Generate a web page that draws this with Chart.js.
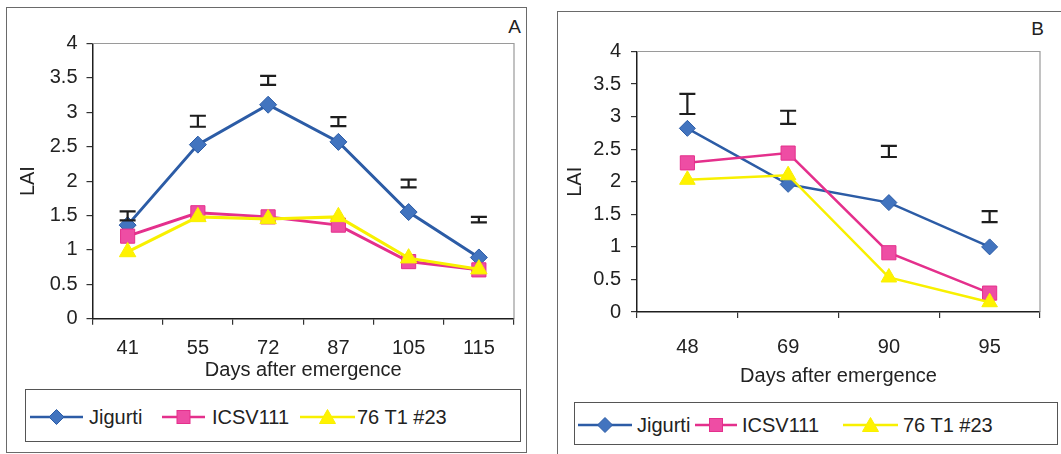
<!DOCTYPE html>
<html>
<head>
<meta charset="utf-8">
<script src="https://cdn.jsdelivr.net/npm/chart.js@4/dist/chart.umd.min.js"></script>
<style>
  html, body { margin: 0; padding: 0; background: #ffffff; }
  body { width: 1061px; height: 454px; position: relative; overflow: hidden; font-family: 'Liberation Sans', Arial, sans-serif; color: #222; }
  .frame { position: absolute; border: 1.5px solid #6a6a6a; box-sizing: border-box; }
  canvas { position: absolute; }
  .panel-label { position: absolute; font-size: 19px; line-height: 19px; text-align: right; color: #222; }
  .legend-box { position: absolute; border: 1.5px solid #555; box-sizing: border-box; }
  .leg-text { position: absolute; font-size: 20px; line-height: 20px; white-space: nowrap; color: #222; }
  svg.leg-sym { position: absolute; overflow: visible; }
</style>
</head>
<body>
<div class="frame" style="left:6px; top:7px; width:521px; height:446px;"></div>
<div class="frame" style="left:557px; top:11px; width:520px; height:450px;"></div>
<div class="panel-label" style="left:471px; top:17px; width:50px;">A</div>
<div class="panel-label" style="left:994px; top:19px; width:50px;">B</div>
<canvas id="chartA" width="518" height="380" style="left:7px; top:8px;"></canvas>
<canvas id="chartB" width="503" height="390" style="left:558px; top:11px;"></canvas>
<div class="legend-box" style="left:25px; top:389px; width:496px; height:53px;"></div>
<div class="legend-box" style="left:574px; top:402px; width:484px; height:43px;"></div>
<div id="legends"></div>
<script>
// ---------- DATA ----------
const seriesNames = ['Jigurti', 'ICSV111', '76 T1 #23'];

const categoriesA = ['41', '55', '72', '87', '105', '115'];
const jigurtiA = [1.36, 2.53, 3.11, 2.57, 1.55, 0.89];
const icsvA    = [1.20, 1.54, 1.48, 1.36, 0.83, 0.71];
const t76A     = [0.97, 1.48, 1.45, 1.48, 0.88, 0.72];
const lsdLowA  = [1.43, 2.79, 3.40, 2.80, 1.91, 1.40];
const lsdHighA = [1.56, 2.95, 3.53, 2.93, 2.02, 1.48];

const categoriesB = ['48', '69', '90', '95'];
const jigurtiB = [2.82, 1.96, 1.68, 1.00];
const icsvB    = [2.29, 2.44, 0.91, 0.29];
const t76B     = [2.03, 2.10, 0.53, 0.15];
const lsdLowB  = [3.04, 2.89, 2.38, 1.38];
const lsdHighB = [3.35, 3.09, 2.55, 1.55];

const yTickValues = [0, 0.5, 1, 1.5, 2, 2.5, 3, 3.5, 4];
const yTickLabels = ['0', '0.5', '1', '1.5', '2', '2.5', '3', '3.5', '4'];
const yAxisTitle = 'LAI';
const xAxisTitle = 'Days after emergence';

// ---------- STYLE ----------
const FONT = "'Liberation Sans', Arial, sans-serif";
const COLORS = {
  blueLine: '#2c5ca6', blueFill: '#4274bf',
  pinkLine: '#e4308c', pinkFill: '#ee4da4',
  yellowLine: '#f8f000', yellowFill: '#fff200'
};

Chart.defaults.font.family = FONT;
Chart.defaults.color = '#222';

const errorBarPlugin = {
  id: 'lsdBars',
  afterDatasetsDraw(chart, args, opts) {
    const {ctx, scales: {x, y}} = chart;
    ctx.save();
    ctx.strokeStyle = '#1e1e1e';
    ctx.lineWidth = opts.lineWidth || 2.2;
    const cap = opts.cap || 8;
    opts.low.forEach((lo, i) => {
      const hi = opts.high[i];
      const px = x.getPixelForValue(i);
      const y1 = y.getPixelForValue(lo), y2 = y.getPixelForValue(hi);
      ctx.beginPath();
      ctx.moveTo(px, y1); ctx.lineTo(px, y2);
      ctx.moveTo(px - cap, y1); ctx.lineTo(px + cap, y1);
      ctx.moveTo(px - cap, y2); ctx.lineTo(px + cap, y2);
      ctx.stroke();
    });
    ctx.restore();
  }
};

const plotBorderPlugin = {
  id: 'plotBorder',
  beforeDatasetsDraw(chart) {
    const {ctx, chartArea: a} = chart;
    ctx.save();
    ctx.strokeStyle = '#9a9a9a';
    ctx.lineWidth = 1.2;
    ctx.beginPath();
    ctx.moveTo(a.left, a.top); ctx.lineTo(a.right, a.top); ctx.lineTo(a.right, a.bottom);
    ctx.stroke();
    ctx.restore();
  }
};

function makeChart(id, cfg) {
  const datasets = [
    { label: seriesNames[0], data: cfg.jig, borderColor: COLORS.blueLine, backgroundColor: COLORS.blueFill,
      pointStyle: 'rectRot', pointRadius: cfg.diamondR, pointBorderColor: COLORS.blueLine, pointBorderWidth: 1,
      borderWidth: cfg.lw, order: 3 },
    { label: seriesNames[1], data: cfg.icsv, borderColor: COLORS.pinkLine, backgroundColor: COLORS.pinkFill,
      pointStyle: 'rect', pointRadius: cfg.squareR, pointBorderColor: COLORS.pinkLine, pointBorderWidth: 1,
      borderWidth: cfg.lw, order: 2 },
    { label: seriesNames[2], data: cfg.t76, borderColor: COLORS.yellowLine, backgroundColor: COLORS.yellowFill,
      pointStyle: 'triangle', pointRadius: cfg.triR, pointBorderColor: COLORS.yellowLine, pointBorderWidth: 1,
      borderWidth: cfg.lw, order: 1 }
  ];
  return new Chart(document.getElementById(id), {
    type: 'line',
    data: { labels: cfg.labels, datasets },
    plugins: [plotBorderPlugin, errorBarPlugin],
    options: {
      responsive: false,
      animation: false,
      devicePixelRatio: 1,
      layout: { padding: cfg.padding },
      elements: { line: { tension: 0 } },
      plugins: {
        legend: { display: false },
        tooltip: { enabled: false },
        lsdBars: { low: cfg.low, high: cfg.high, cap: 8, lineWidth: 2.2 }
      },
      scales: {
        x: {
          type: 'category',
          offset: true,
          grid: { display: true, offset: true, drawOnChartArea: false, drawTicks: true, tickLength: 6, color: '#333', lineWidth: 1.2 },
          border: { display: true, color: '#1e1e1e', width: 1.5 },
          ticks: { font: { size: 20 }, color: '#222', padding: cfg.xTickPad, maxRotation: 0, autoSkip: false },
          title: { display: true, text: xAxisTitle, font: { size: 20 }, color: '#222', padding: { top: 0, bottom: cfg.xTitlePad } },
          afterFit(s) { s.height = cfg.xHeight; }
        },
        y: {
          min: 0, max: 4,
          afterBuildTicks(s) { s.ticks = yTickValues.map(v => ({ value: v })); },
          grid: { display: true, drawOnChartArea: false, drawTicks: true, tickLength: 6, color: '#333', lineWidth: 1.2 },
          border: { display: true, color: '#1e1e1e', width: 1.5 },
          ticks: { font: { size: 20 }, color: '#222', padding: cfg.yTickPad,
                   callback: (v, i) => yTickLabels[yTickValues.indexOf(v)] },
          title: { display: true, text: yAxisTitle, font: { size: 20 }, color: '#222', padding: { top: cfg.yTitlePad, bottom: 0 } },
          afterFit(s) { s.width = cfg.yWidth; }
        }
      }
    }
  });
}

makeChart('chartA', {
  labels: categoriesA, jig: jigurtiA, icsv: icsvA, t76: t76A, low: lsdLowA, high: lsdHighA,
  padding: { left: 0, top: 35.5, right: 2, bottom: 0 },
  yWidth: 85.5, xHeight: 69.3, xTickPad: 12, yTickPad: 9, xTitlePad: 6, yTitlePad: 9,
  lw: 3, diamondR: 8.5, squareR: 10, triR: 9.5
});

makeChart('chartB', {
  labels: categoriesB, jig: jigurtiB, icsv: icsvB, t76: t76B, low: lsdLowB, high: lsdHighB,
  padding: { left: 0, top: 40.5, right: 21, bottom: 0 },
  yWidth: 79, xHeight: 89, xTickPad: 17, yTickPad: 10, xTitlePad: 12.5, yTitlePad: 5.5,
  lw: 2.5, diamondR: 8, squareR: 10, triR: 9
});

// ---------- HTML LEGENDS ----------
const legendHost = document.getElementById('legends');
const SVGNS = 'http://www.w3.org/2000/svg';
function legendItem(x1, x2, cy, shape, line, fill, text, textX) {
  const svg = document.createElementNS(SVGNS, 'svg');
  svg.setAttribute('class', 'leg-sym');
  const w = x2 - x1;
  svg.setAttribute('width', w); svg.setAttribute('height', 20);
  svg.style.left = x1 + 'px'; svg.style.top = (cy - 10) + 'px';
  const ln = document.createElementNS(SVGNS, 'line');
  ln.setAttribute('x1', 0); ln.setAttribute('x2', w); ln.setAttribute('y1', 10); ln.setAttribute('y2', 10);
  ln.setAttribute('stroke', line); ln.setAttribute('stroke-width', 2.6);
  svg.appendChild(ln);
  const c = w / 2;
  let m;
  if (shape === 'diamond') {
    m = document.createElementNS(SVGNS, 'polygon');
    m.setAttribute('points', `${c},2.5 ${c+7.5},10 ${c},17.5 ${c-7.5},10`);
  } else if (shape === 'square') {
    m = document.createElementNS(SVGNS, 'rect');
    m.setAttribute('x', c - 6.5); m.setAttribute('y', 3.5); m.setAttribute('width', 13); m.setAttribute('height', 13);
  } else {
    m = document.createElementNS(SVGNS, 'polygon');
    m.setAttribute('points', `${c},2.5 ${c+8},16.5 ${c-8},16.5`);
  }
  m.setAttribute('fill', fill); m.setAttribute('stroke', line); m.setAttribute('stroke-width', 1);
  svg.appendChild(m);
  legendHost.appendChild(svg);
  const t = document.createElement('div');
  t.className = 'leg-text';
  t.textContent = text;
  t.style.left = textX + 'px';
  t.style.top = (cy - 9.7) + 'px';
  legendHost.appendChild(t);
}
const shapes = ['diamond', 'square', 'triangle'];
const lineCols = [COLORS.blueLine, COLORS.pinkLine, COLORS.yellowLine];
const fillCols = [COLORS.blueFill, COLORS.pinkFill, COLORS.yellowFill];
const legA = [[30, 83, 89], [162, 205, 212], [300, 355, 357]];
const legB = [[578, 632, 637], [695, 737, 742], [843, 898, 903]];
legA.forEach((p, i) => legendItem(p[0], p[1], 417, shapes[i], lineCols[i], fillCols[i], seriesNames[i], p[2]));
legB.forEach((p, i) => legendItem(p[0], p[1], 425, shapes[i], lineCols[i], fillCols[i], seriesNames[i], p[2]));
</script>
</body>
</html>
